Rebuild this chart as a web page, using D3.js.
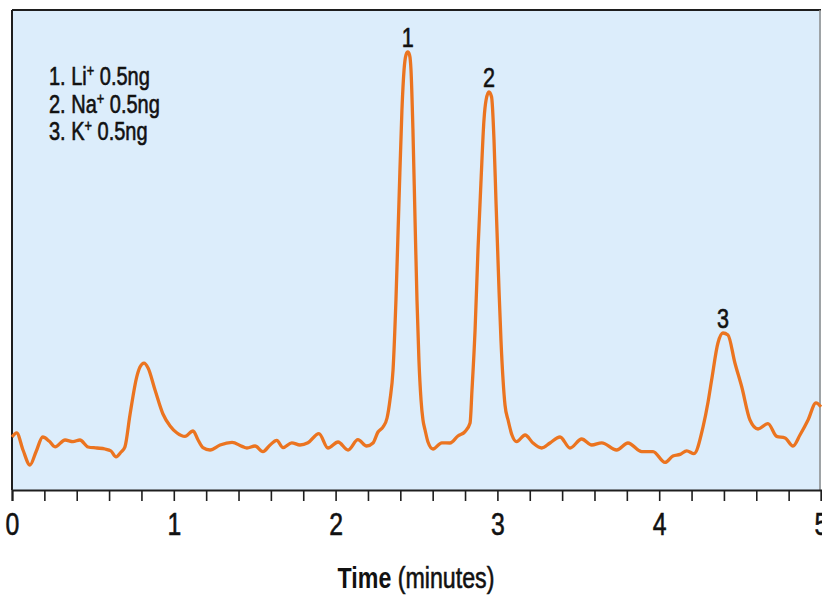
<!DOCTYPE html>
<html>
<head>
<meta charset="utf-8">
<script src="https://cdn.jsdelivr.net/npm/d3@7"></script>
<style>
  body { margin: 0; background: #ffffff; }
  text { font-family: "Liberation Sans", Arial, sans-serif; }
  .heavy { stroke: #111; stroke-width: 0.6px; paint-order: stroke; }
</style>
</head>
<body>
<div id="chart"></div>
<script>
// Chromatogram trace (time in minutes, signal in arbitrary units)
var timeMin = [
  0.000, 0.029, 0.068, 0.111, 0.148, 0.190, 0.229, 0.266, 0.328, 0.377,
  0.420, 0.470, 0.525, 0.575, 0.612, 0.643, 0.674, 0.698, 0.729, 0.771,
  0.791, 0.816, 0.841, 0.884, 0.933, 0.977, 1.020, 1.069, 1.119, 1.150,
  1.180, 1.224, 1.286, 1.360, 1.422, 1.452, 1.502, 1.551, 1.595, 1.636,
  1.675, 1.729, 1.780, 1.829, 1.897, 1.953, 2.015, 2.077, 2.138, 2.192,
  2.231, 2.262, 2.293, 2.318, 2.336, 2.355, 2.373, 2.392, 2.410, 2.423,
  2.435, 2.446, 2.457, 2.466, 2.478, 2.491, 2.503, 2.515, 2.528, 2.540,
  2.553, 2.571, 2.602, 2.656, 2.707, 2.756, 2.800, 2.831, 2.843, 2.862,
  2.880, 2.899, 2.917, 2.930, 2.948, 2.964, 2.979, 2.991, 3.010, 3.022,
  3.035, 3.047, 3.066, 3.090, 3.119, 3.171, 3.220, 3.274, 3.325, 3.387,
  3.449, 3.521, 3.583, 3.645, 3.737, 3.807, 3.892, 3.962, 4.036, 4.085,
  4.129, 4.170, 4.215, 4.271, 4.302, 4.324, 4.363, 4.394, 4.425, 4.468,
  4.510, 4.561, 4.611, 4.672, 4.726, 4.778, 4.827, 4.870, 4.920, 4.969,
  5.000
];
var signal = [
  13.25, 14.3, 10.0, 6.25, 9.5, 13.25, 12.25, 10.8, 12.5, 12.1,
  12.5, 10.75, 10.5, 10.25, 9.75, 8.3, 9.5, 10.8, 18.75, 28.3,
  30.75, 31.7, 30.5, 25.0, 19.0, 16.0, 14.25, 13.4, 14.75, 12.5,
  10.6, 10.0, 11.25, 11.9, 10.9, 10.5, 11.0, 9.6, 11.25, 12.4,
  10.6, 11.8, 11.25, 11.8, 14.1, 10.5, 12.0, 10.0, 12.6, 11.0,
  11.75, 14.5, 15.75, 18.0, 22.5, 30.0, 47.5, 72.5, 95.0, 105.0,
  108.75, 109.5, 108.75, 105.0, 90.0, 67.5, 47.5, 32.5, 22.5, 17.5,
  15.0, 12.0, 10.25, 11.8, 11.75, 13.5, 14.6, 16.75, 25.0, 40.0,
  60.0, 77.5, 92.5, 97.5, 99.5, 98.25, 87.5, 72.5, 50.0, 37.5,
  27.5, 21.25, 17.5, 13.75, 12.1, 13.75, 11.75, 10.5, 11.75, 13.25,
  10.5, 12.75, 11.25, 11.8, 10.0, 11.75, 9.6, 9.6, 6.9, 8.5,
  8.9, 9.8, 9.1, 15.8, 22.0, 27.5, 36.75, 39.25, 38.75, 31.75,
  25.8, 17.5, 15.25, 16.6, 13.4, 13.0, 11.0, 13.75, 17.5, 21.8,
  20.8
];

// Peak numbers and their apex
var peakNames = ["1", "2", "3"];
var peakTimes = [2.446, 2.948, 4.394];
var peakHeights = [109.5, 99.5, 39.25];

// Legend entries
var legendNums = ["1.", "2.", "3."];
var legendIons = ["Li", "Na", "K"];
var legendAmounts = ["0.5ng", "0.5ng", "0.5ng"];

// Define SVG area dimensions
var svgWidth = 822;
var svgHeight = 596;

var Margin = { top: 10, right: 1, bottom: 106, left: 12 };
var width = svgWidth - Margin.left - Margin.right;
var height = svgHeight - Margin.top - Margin.bottom;

// horizontal squeeze to mimic the condensed face of the original
var squeeze = 0.8;

var svg = d3.select("#chart")
  .append("svg")
  .attr("width", svgWidth)
  .attr("height", svgHeight);

var chartGroup = svg.append("g")
  .attr("transform", `translate(${Margin.left}, ${Margin.top})`);

// Scales
var xScale = d3.scaleLinear().domain([0, 5]).range([0, width]);
var yScale = d3.scaleLinear().domain([0, 120]).range([height, 0]);

// Plot background
chartGroup.append("rect")
  .attr("width", width)
  .attr("height", height)
  .attr("fill", "#dcedfb");

// Frame: dark left and top, grey right
chartGroup.append("line")
  .attr("x1", 0).attr("x2", 0).attr("y1", 0).attr("y2", height)
  .attr("stroke", "#1e1e1e").attr("stroke-width", 2);
chartGroup.append("line")
  .attr("x1", 0).attr("x2", width).attr("y1", 0).attr("y2", 0)
  .attr("stroke", "#1e1e1e").attr("stroke-width", 2);
chartGroup.append("line")
  .attr("x1", width - 1).attr("x2", width - 1).attr("y1", 0).attr("y2", height)
  .attr("stroke", "#8a8a8a").attr("stroke-width", 1.5);

// Trace
var traceData = timeMin.map(function(t, i) { return { t: t, s: signal[i] }; });

var line = d3.line()
  .x(d => xScale(d.t))
  .y(d => yScale(d.s))
  .curve(d3.curveMonotoneX);

chartGroup.append("path")
  .datum(traceData)
  .attr("d", line)
  .attr("fill", "none")
  .attr("stroke", "#eb7420")
  .attr("stroke-width", 3.3)
  .attr("stroke-linejoin", "round");

// Bottom axis, minor ticks every 0.2 min, labels on whole minutes
var tickVals = d3.range(0, 26).map(i => i / 5);
var bottomAxis = d3.axisBottom(xScale)
  .tickValues(tickVals)
  .tickSize(11)
  .tickPadding(12)
  .tickFormat(function(d) {
    var i = Math.round(d * 5);
    return i % 5 === 0 ? String(i / 5) : "";
  });

var axisG = chartGroup.append("g")
  .attr("transform", `translate(0, ${height})`)
  .call(bottomAxis);

axisG.select(".domain")
  .attr("stroke", "#1e1e1e")
  .attr("stroke-width", 2);
axisG.selectAll(".tick line")
  .attr("stroke", "#1e1e1e")
  .attr("stroke-width", 1.6);
axisG.selectAll(".tick text")
  .attr("class", "heavy")
  .attr("fill", "#111")
  .attr("font-size", "31px")
  .attr("font-family", "'Liberation Sans', Arial, sans-serif")
  .attr("transform", `scale(${squeeze}, 1)`);

// Axis title
var title = svg.append("text")
  .attr("transform", `translate(416, 588) scale(${squeeze}, 1)`)
  .attr("text-anchor", "middle")
  .attr("font-size", "29px")
  .attr("fill", "#111");
title.append("tspan").attr("font-weight", "bold").text("Time");
title.append("tspan").attr("class", "heavy").text(" (minutes)");

// Peak numbers
chartGroup.selectAll(".peak-label")
  .data(peakNames)
  .enter()
  .append("text")
  .attr("class", "peak-label heavy")
  .attr("transform", (d, i) =>
    `translate(${xScale(peakTimes[i])}, ${yScale(peakHeights[i]) - 5}) scale(${squeeze}, 1)`)
  .attr("text-anchor", "middle")
  .attr("font-size", "27px")
  .attr("fill", "#111")
  .text(d => d);

// Legend
var legend = svg.selectAll(".legend")
  .data(legendIons)
  .enter()
  .append("text")
  .attr("class", "legend heavy")
  .attr("transform", (d, i) => `translate(49, ${85 + i * 27.5}) scale(${squeeze}, 1)`)
  .attr("font-size", "25px")
  .attr("fill", "#111");

legend.append("tspan").text((d, i) => legendNums[i] + " " + d);
legend.append("tspan")
  .attr("font-size", "16px")
  .attr("dy", "-9")
  .text("+");
legend.append("tspan")
  .attr("dy", "9")
  .text((d, i) => " " + legendAmounts[i]);
</script>
</body>
</html>
